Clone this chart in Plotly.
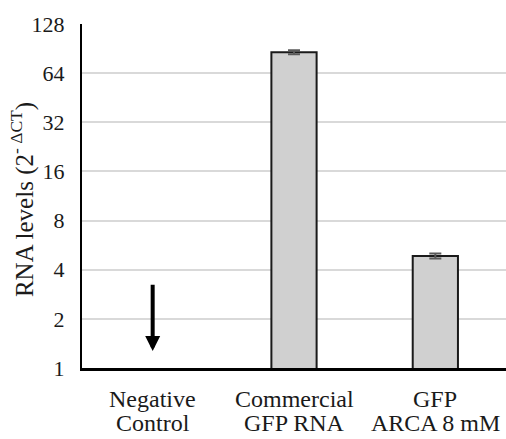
import math
import plotly.graph_objects as go

# RNA levels (2^-ΔCT) per sample
categories = ["Negative Control", "Commercial GFP RNA", "GFP ARCA 8 mM"]
label_lines = [("Negative", "Control"), ("Commercial", "GFP RNA"), ("GFP", "ARCA 8 mM")]
rna_levels = [None, 86.0, 4.85]
rna_error = [0, 2.4, 0.17]
tick_values = [1, 2, 4, 8, 16, 32, 64, 128]

# downward arrow marking the undetected negative control
arrow_from = 3.3
arrow_to = 1.27

font_family = "Liberation Serif"
text_color = "#1a1a1a"

fig = go.Figure()
fig.add_trace(go.Bar(
    x=categories,
    y=rna_levels,
    marker=dict(color="#d0d0d0", line=dict(color="#1a1a1a", width=2)),
    error_y=dict(type="data", array=rna_error, visible=True,
                 color="#595959", thickness=2, width=6),
    width=0.32,
))

fig.add_annotation(
    x=categories[0], y=math.log10(arrow_to),
    ax=categories[0], ay=math.log10(arrow_from),
    xref="x", yref="y", axref="x", ayref="y",
    text="", showarrow=True,
    arrowhead=2, arrowsize=0.75, arrowwidth=4, arrowcolor="black",
)

# two-line category labels under the axis
for cat, (first, second) in zip(categories, label_lines):
    fig.add_annotation(x=cat, xref="x", y=-0.09, yref="paper",
                       text=first, showarrow=False, yanchor="middle",
                       font=dict(family=font_family, size=24, color=text_color))
    fig.add_annotation(x=cat, xref="x", y=-0.16, yref="paper",
                       text=second, showarrow=False, yanchor="middle",
                       font=dict(family=font_family, size=24, color=text_color))

# y-axis title
fig.add_annotation(x=-0.14, xref="paper", y=0.49, yref="paper",
                   text="RNA levels (2<sup>-\u00a0ΔCT</sup>)", textangle=-90,
                   showarrow=False, xanchor="center", yanchor="middle",
                   font=dict(family=font_family, size=25, color=text_color))

fig.update_layout(
    width=506, height=439,
    margin=dict(l=82, r=0, t=24, b=71),
    plot_bgcolor="white", paper_bgcolor="white",
    showlegend=False,
    font=dict(family=font_family, color=text_color, size=22),
    xaxis=dict(
        showline=True, linecolor="black", linewidth=2.5,
        ticks="", showticklabels=False,
        showgrid=False,
    ),
    yaxis=dict(
        type="log",
        range=[0, math.log10(128)],
        tickvals=tick_values,
        ticktext=[str(v) for v in tick_values],
        showline=True, linecolor="black", linewidth=2,
        showgrid=True, gridcolor="#d9d9d9", gridwidth=1.5,
        ticks="", ticklabelstandoff=11,
        tickfont=dict(family=font_family, size=22, color=text_color),
        zeroline=False,
    ),
)

fig.write_html("out.html")
